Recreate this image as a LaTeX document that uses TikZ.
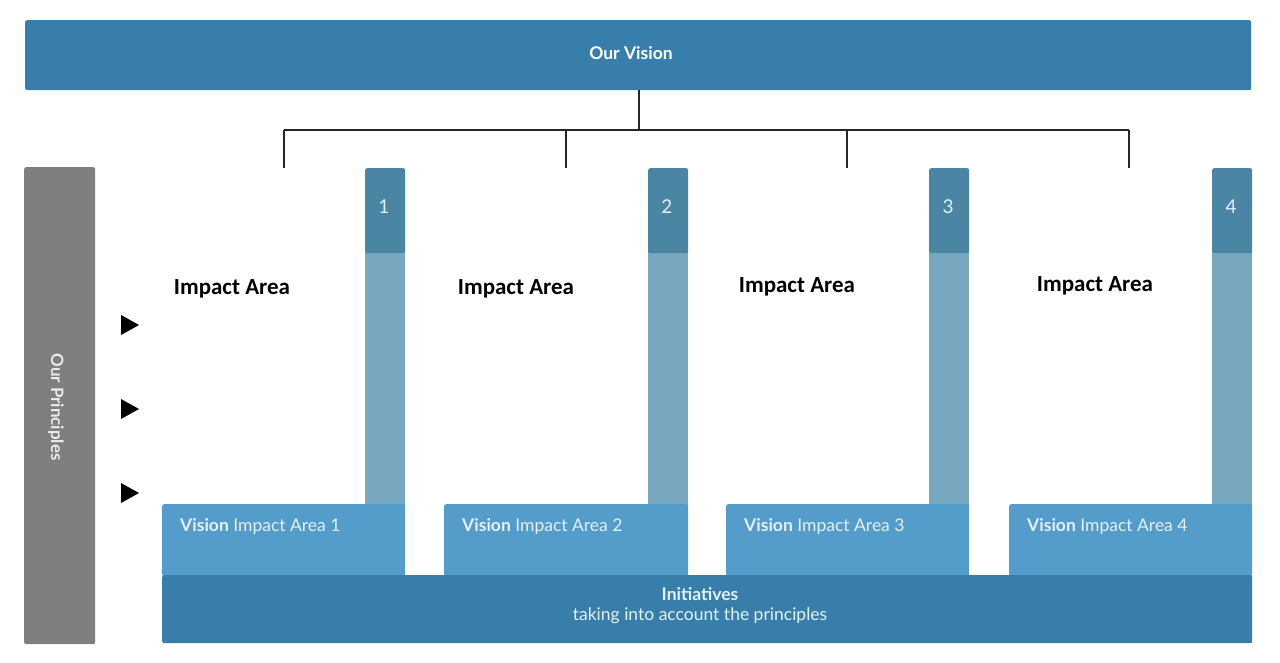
\documentclass[tikz,border=0pt]{standalone}
\usepackage{fontspec}
\setmainfont{Lato}
\newfontfamily\carl{Carlito}
\definecolor{visblue}{HTML}{377EAB}
\definecolor{tabdark}{HTML}{4A85A4}
\definecolor{tablight}{HTML}{78A7C0}
\definecolor{vbox}{HTML}{549CCA}
\definecolor{princ}{HTML}{7F7F7F}
\definecolor{lighttext}{HTML}{E4F0F8}
\begin{document}
\begin{tikzpicture}[x=1pt,y=-1pt]
\useasboundingbox (0,0) rectangle (1280,663);
\tikzset{
  box/.style={draw=none, inner sep=0pt, anchor=north west, rounded corners=2pt},
  conn/.style={draw=black!85, line width=1.2pt},
  ialabel/.style={font=\carl\bfseries\fontsize{23}{26}\selectfont, text=black},
  vlabel/.style={font=\fontsize{17.5}{20}\selectfont, text=lighttext, anchor=west, inner sep=0pt},
  numlabel/.style={font=\fontsize{19}{22}\selectfont, text=lighttext},
  tri/.style={fill=black}
}
% Vision bar
\node[box, fill=visblue, minimum width=1226pt, minimum height=70pt] (vision) at (25,20) {};
\node[font=\bfseries\fontsize{17.5}{20}\selectfont, text=white] (visiontxt) at (631,53) {Our Vision};
% tree
\coordinate (hub) at (639,130);
\coordinate (d1) at (284,168);
\coordinate (d2) at (566,168);
\coordinate (d3) at (847,168);
\coordinate (d4) at (1129,168);
\draw[conn] (vision.south -| hub) -- (hub);
\draw[conn] (d1 |- hub) -- (d4 |- hub);
\foreach \d in {d1,d2,d3,d4} \draw[conn] (\d |- hub) -- (\d);
% principles bar
\node[box, fill=princ, minimum width=71pt, minimum height=477pt] (principles) at (24,167) {};
\node[rotate=-90, font=\bfseries\fontsize{17}{20}\selectfont, text=white!92!black] (princtxt) at (56,407) {Our Principles};
% triangles
\foreach \yy in {325,409,493} \fill[tri] (121,\yy-10) -- (139,\yy) -- (121,\yy+10) -- cycle;
% columns
\foreach \i/\tx/\vx/\lx/\ly in {1/365/162/232/289, 2/648/444/516/289, 3/929/726/797/287, 4/1212/1009/1095/286}{
  \node[box, fill=tablight, minimum width=40pt, minimum height=262pt, rounded corners=0pt] (tl\i) at (\tx,248) {};
  \node[box, fill=tabdark, minimum width=40pt, minimum height=85pt] (td\i) at (\tx,168) {};
  \node[numlabel] (num\i) at (\tx+19,207) {\i};
  \node[box, fill=vbox, minimum width={\tx+40-\vx}, minimum height=72pt] (vb\i) at (\vx,504) {};
  \node[vlabel] (vt\i) at (\vx+18,527) {\textbf{Vision} Impact Area \i};
  \node[ialabel] (ia\i) at (\lx,\ly) {Impact Area};
}
% initiatives
\node[box, fill=visblue, minimum width=1090pt, minimum height=68pt] (init) at (162,575) {};
\node[font=\fontsize{17.5}{20}\selectfont, text=lighttext, align=center] (inittxt) at (700,606) {\textbf{Initiatives}\\taking into account the principles};
\end{tikzpicture}
\end{document}
